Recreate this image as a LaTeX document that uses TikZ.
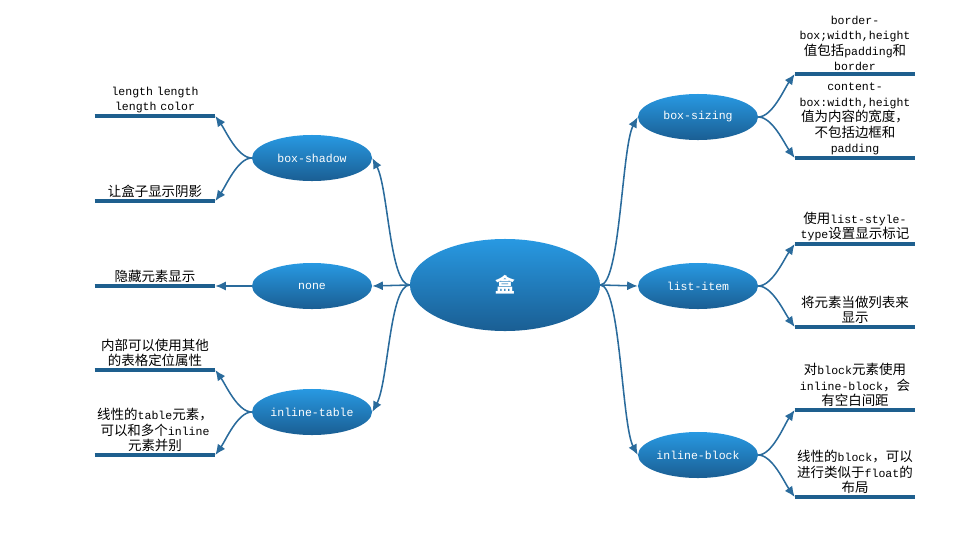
\documentclass[tikz,border=0pt]{standalone}
\usepackage{fontspec}
\setmainfont{Liberation Mono}
\newfontfamily\cjk{Noto Sans CJK SC}[Scale=1.17]
\newcommand{\zh}[1]{{\cjk #1}}
\usetikzlibrary{shapes.geometric, arrows.meta}
\definecolor{topblue}{HTML}{2899E2}
\definecolor{botblue}{HTML}{1A5E93}
\definecolor{linkblue}{HTML}{2A6B9C}
\definecolor{leafblue}{HTML}{1E5F8E}
\tikzset{
    rootnode/.style={
        ellipse, minimum width=4.75cm, minimum height=2.3cm, inner sep=0pt,
        top color=topblue, bottom color=botblue, text=white,
        font=\cjk\bfseries\fontsize{12}{12}\selectfont
    },
    topic/.style={
        ellipse, minimum width=3cm, minimum height=1.15cm, inner sep=0pt,
        top color=topblue, bottom color=botblue, text=white,
        font=\fontsize{8.2}{10}\selectfont
    },
    leaf/.style={
        text width=3cm, inner xsep=0pt, inner ysep=2pt, align=center,
        anchor=south, font=\fontsize{8.2}{11}\selectfont
    },
    leafline/.style={
        draw=leafblue, line width=3pt
    },
    link/.style={
        -{Latex[length=7.5pt,width=6.5pt]}, draw=linkblue, line width=1.1pt
    }
}
\begin{document}
\begin{tikzpicture}[x=0.025cm, y=-0.025cm]
    \useasboundingbox (0,0) rectangle (968,533);

    % ── Centre and topics ──
    \node[rootnode] (box)    at (505,285) {盒};
    \node[topic]    (bsz)    at (698,117) {box-sizing};
    \node[topic]    (li)     at (698,286) {list-item};
    \node[topic]    (ib)     at (698,455) {inline-block};
    \node[topic]    (shadow) at (312,158) {box-shadow};
    \node[topic]    (none)   at (312,286) {none};
    \node[topic]    (it)     at (312,412) {inline-table};

    % ── Leaves ──
    \node[leaf] (bsz1)  at (855,74)  {border-\\box;width,height\\\zh{值包括}padding\zh{和}\\border};
    \node[leaf] (bsz2)  at (855,158) {content-\\box:width,height\\\zh{值为内容的宽度，}\\\zh{不包括边框和}\\padding};
    \node[leaf] (li1)   at (855,244) {\zh{使用}list-style-\\type\zh{设置显示标记}};
    \node[leaf] (li2)   at (855,327) {\zh{将元素当做列表来}\\\zh{显示}};
    \node[leaf] (ib1)   at (855,410) {\zh{对}block\zh{元素使用}\\inline-block\zh{，会}\\\zh{有空白间距}};
    \node[leaf] (ib2)   at (855,497) {\zh{线性的}block\zh{，可以}\\\zh{进行类似于}float\zh{的}\\\zh{布局}};
    \node[leaf] (sh1)   at (155,116) {length length\\length color};
    \node[leaf] (sh2)   at (155,201) {\zh{让盒子显示阴影}};
    \node[leaf] (none1) at (155,286) {\zh{隐藏元素显示}};
    \node[leaf] (it1)   at (155,370) {\zh{内部可以使用其他}\\\zh{的表格定位属性}};
    \node[leaf] (it2)   at (155,455) {\zh{线性的}table\zh{元素，}\\\zh{可以和多个}inline\\\zh{元素并别}};

    \foreach \n in {bsz1,bsz2,li1,li2,ib1,ib2,sh1,sh2,none1,it1,it2}
        \draw[leafline] (\n.south west) -- (\n.south east);

    % ── Centre to topics ──
    \draw[link] (box.east) .. controls +(20,0) and +(-16,30) .. (bsz.west);
    \draw[link] (box.east) -- (li.west);
    \draw[link] (box.east) .. controls +(20,0) and +(-16,-30) .. (ib.west);
    \draw[link] (box.west) .. controls +(-20,0) and +(16,30) .. (shadow.east);
    \draw[link] (box.west) -- (none.east);
    \draw[link] (box.west) .. controls +(-20,0) and +(16,-30) .. (it.east);

    % ── Topics to leaves ──
    \draw[link] (bsz.east) .. controls +(14,0) and +(-10,14) .. (bsz1.south west);
    \draw[link] (bsz.east) .. controls +(14,0) and +(-10,-14) .. (bsz2.south west);
    \draw[link] (li.east) .. controls +(14,0) and +(-10,14) .. (li1.south west);
    \draw[link] (li.east) .. controls +(14,0) and +(-10,-14) .. (li2.south west);
    \draw[link] (ib.east) .. controls +(14,0) and +(-10,14) .. (ib1.south west);
    \draw[link] (ib.east) .. controls +(14,0) and +(-10,-14) .. (ib2.south west);
    \draw[link] (shadow.west) .. controls +(-14,0) and +(10,14) .. (sh1.south east);
    \draw[link] (shadow.west) .. controls +(-14,0) and +(10,-14) .. (sh2.south east);
    \draw[link] (none.west) -- (none1.south east);
    \draw[link] (it.west) .. controls +(-14,0) and +(10,14) .. (it1.south east);
    \draw[link] (it.west) .. controls +(-14,0) and +(10,-14) .. (it2.south east);
\end{tikzpicture}
\end{document}
